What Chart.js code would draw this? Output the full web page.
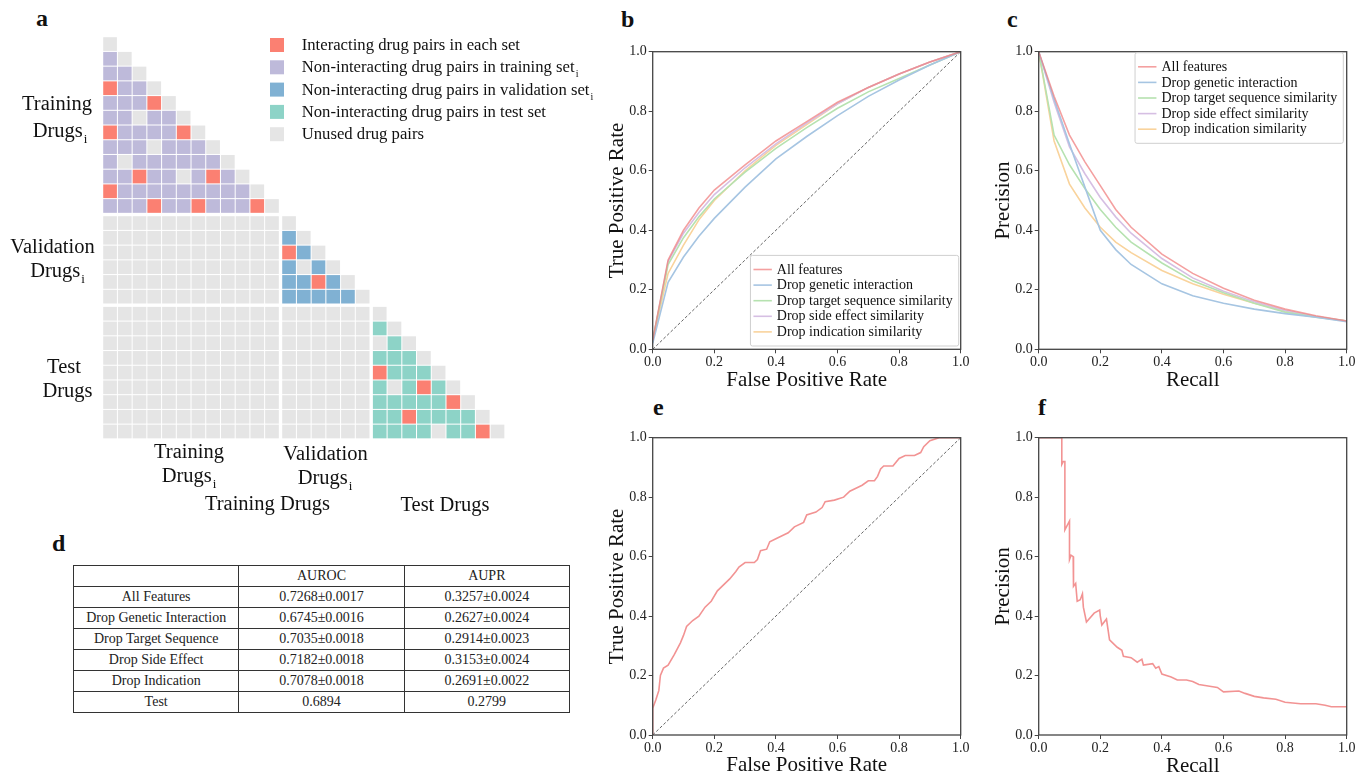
<!DOCTYPE html>
<html>
<head>
<meta charset="utf-8">
<script src="https://cdn.jsdelivr.net/npm/chart.js@4.4.1/dist/chart.umd.min.js"></script>
<style>
  body { margin: 0; width: 1368px; height: 776px; overflow: hidden; background: #fff; font-family: "Liberation Serif", serif; position: relative; }
  canvas { position: absolute; }
  .tag { position: absolute; font-weight: bold; font-size: 24px; line-height: 1; color: #111; }
  #scoreTable { position: absolute; left: 73px; top: 565px; width: 497px; border-collapse: collapse; table-layout: fixed; font-size: 14px; color: #222; border: 1.5px solid #222; }
  #scoreTable td { border: 1px solid #333; text-align: center; height: 20px; padding: 0; }
</style>
</head>
<body>
<div class="tag" style="left:36px;top:6px">a</div>
<div class="tag" style="left:621px;top:7px">b</div>
<div class="tag" style="left:1007px;top:7px">c</div>
<div class="tag" style="left:52px;top:531px">d</div>
<div class="tag" style="left:653px;top:395px">e</div>
<div class="tag" style="left:1038px;top:395px">f</div>

<canvas id="gridChart" width="610" height="530" style="left:0;top:0"></canvas>
<canvas id="rocChart" width="385" height="370" style="left:590px;top:30px"></canvas>
<canvas id="prChart" width="385" height="370" style="left:980px;top:30px"></canvas>
<canvas id="testRocChart" width="385" height="390" style="left:590px;top:400px"></canvas>
<canvas id="testPrChart" width="385" height="390" style="left:980px;top:400px"></canvas>
<table id="scoreTable"></table>

<script>
// ---- panel a: drug pair grid (one string per row, from column 0 to the diagonal)
// I interacting, T non-interacting train, V non-interacting val, S non-interacting test, U unused
var trainRows = ['U', 'TU', 'TTU', 'ITTU', 'TTTIU', 'TTUTTU', 'ITTTTIU', 'TTTUTTTU',
    'TUTTTTTTU', 'TTITTUTITU', 'ITTTTTTTTTU', 'TTTITTITTTIU'];
var valRows = ['U', 'VU', 'IVU', 'VUVU', 'VVIVU', 'VVVVVU'];
var testRows = ['U', 'SU', 'USU', 'SSSU', 'ISSSU', 'SUSISU', 'SSSSSIU', 'SSISSSSU', 'SSSSUSSIU'];
var cellCodes = ['I', 'T', 'V', 'S', 'U'];
var cellLabels = ['Interacting drug pairs in each set', 'Non-interacting drug pairs in training set',
    'Non-interacting drug pairs in validation set', 'Non-interacting drug pairs in test set', 'Unused drug pairs'];
var cellLabelSubs = ['', 'i', 'i', '', ''];
var cellColors = ['#fb8072', '#bebada', '#80b1d3', '#8dd3c7', '#e5e5e5'];

// ---- panel b: ROC curves
var rocFpr = [0, 0.05, 0.1, 0.15, 0.2, 0.3, 0.4, 0.5, 0.6, 0.7, 0.8, 0.9, 1.0];
var rocAll = [0.03, 0.30, 0.40, 0.475, 0.535, 0.62, 0.70, 0.765, 0.83, 0.88, 0.925, 0.965, 1.0];
var rocGenetic = [0.02, 0.225, 0.31, 0.38, 0.44, 0.545, 0.64, 0.715, 0.785, 0.85, 0.905, 0.955, 1.0];
var rocTarget = [0.03, 0.285, 0.375, 0.445, 0.505, 0.595, 0.675, 0.745, 0.81, 0.865, 0.91, 0.955, 1.0];
var rocSide = [0.03, 0.295, 0.39, 0.46, 0.52, 0.61, 0.69, 0.76, 0.825, 0.88, 0.925, 0.965, 1.0];
var rocIndication = [0.03, 0.255, 0.35, 0.435, 0.50, 0.60, 0.685, 0.755, 0.825, 0.88, 0.925, 0.965, 1.0];

// ---- panel c: PR curves
var prRecall = [0, 0.05, 0.1, 0.15, 0.2, 0.25, 0.3, 0.4, 0.5, 0.6, 0.7, 0.8, 0.9, 1.0];
var prAll = [1.0, 0.85, 0.72, 0.63, 0.55, 0.47, 0.41, 0.32, 0.255, 0.205, 0.165, 0.135, 0.113, 0.095];
var prGenetic = [1.0, 0.84, 0.69, 0.545, 0.40, 0.335, 0.285, 0.22, 0.18, 0.155, 0.135, 0.12, 0.108, 0.093];
var prTarget = [1.0, 0.72, 0.62, 0.54, 0.47, 0.41, 0.36, 0.29, 0.23, 0.19, 0.155, 0.125, 0.108, 0.095];
var prSide = [1.0, 0.83, 0.68, 0.59, 0.51, 0.445, 0.39, 0.305, 0.24, 0.195, 0.16, 0.13, 0.11, 0.095];
var prIndication = [1.0, 0.70, 0.555, 0.475, 0.41, 0.36, 0.325, 0.265, 0.22, 0.185, 0.155, 0.13, 0.11, 0.095];

var seriesNames = ['All features', 'Drop genetic interaction', 'Drop target sequence similarity',
    'Drop side effect similarity', 'Drop indication similarity'];
var seriesColors = ['rgba(240,128,128,0.75)', '#a6c5e2', '#b6e2b0', '#d6bfe3', '#f9d39c'];

// ---- panel d: table
var tableRows = ['All Features', 'Drop Genetic Interaction', 'Drop Target Sequence', 'Drop Side Effect', 'Drop Indication', 'Test'];
var aurocVals = ['0.7268±0.0017', '0.6745±0.0016', '0.7035±0.0018', '0.7182±0.0018', '0.7078±0.0018', '0.6894'];
var auprVals = ['0.3257±0.0024', '0.2627±0.0024', '0.2914±0.0023', '0.3153±0.0024', '0.2691±0.0022', '0.2799'];

// ---- panel e: test ROC
var testFpr = [0, 0, 0.01, 0.02, 0.025, 0.035, 0.05, 0.07, 0.09, 0.1, 0.11, 0.13, 0.15, 0.17, 0.19, 0.21, 0.23, 0.25,
    0.27, 0.28, 0.3, 0.33, 0.34, 0.35, 0.37, 0.38, 0.4, 0.42, 0.44, 0.46, 0.49, 0.5, 0.53, 0.55, 0.56, 0.59, 0.62,
    0.64, 0.66, 0.68, 0.7, 0.72, 0.73, 0.74, 0.75, 0.78, 0.8, 0.82, 0.85, 0.87, 0.88, 0.9, 0.93, 1.0];
var testTpr = [0, 0.09, 0.118, 0.15, 0.2, 0.225, 0.235, 0.27, 0.31, 0.335, 0.365, 0.385, 0.4, 0.43, 0.45, 0.485, 0.505,
    0.525, 0.55, 0.565, 0.58, 0.58, 0.59, 0.62, 0.625, 0.65, 0.66, 0.67, 0.68, 0.7, 0.715, 0.74, 0.75, 0.765, 0.785,
    0.79, 0.8, 0.82, 0.83, 0.84, 0.855, 0.855, 0.87, 0.895, 0.905, 0.905, 0.93, 0.94, 0.94, 0.95, 0.97, 0.99, 1.0, 1.0];

// ---- panel f: test PR
var testRecall = [0, 0.075, 0.075, 0.08, 0.085, 0.085, 0.1, 0.1, 0.105, 0.112, 0.113, 0.12, 0.125, 0.135, 0.142,
    0.145, 0.155, 0.18, 0.198, 0.2, 0.205, 0.22, 0.23, 0.24, 0.255, 0.27, 0.275, 0.3, 0.32, 0.335, 0.34, 0.37, 0.38,
    0.39, 0.4, 0.43, 0.45, 0.48, 0.5, 0.52, 0.55, 0.58, 0.6, 0.65, 0.67, 0.7, 0.73, 0.77, 0.8, 0.85, 0.9, 0.93, 0.95, 1.0];
var testPrecision = [1.0, 1.0, 0.91, 0.92, 0.92, 0.69, 0.72, 0.59, 0.605, 0.6, 0.5, 0.51, 0.45, 0.455, 0.475, 0.43,
    0.38, 0.41, 0.42, 0.40, 0.37, 0.39, 0.32, 0.31, 0.295, 0.285, 0.265, 0.26, 0.245, 0.255, 0.235, 0.24, 0.225, 0.23,
    0.205, 0.195, 0.185, 0.185, 0.18, 0.17, 0.165, 0.16, 0.145, 0.148, 0.14, 0.13, 0.125, 0.12, 0.11, 0.105, 0.105,
    0.1, 0.095, 0.095];

var serif = '"Liberation Serif", "Times New Roman", serif';

// text with an optional small subscript, e.g. Drugs_i
function subText(ctx, main, sub, x, base, size, align) {
    ctx.font = size + 'px ' + serif;
    var w1 = ctx.measureText(main).width;
    var subSize = Math.round(size * 0.62);
    ctx.font = subSize + 'px ' + serif;
    var w2 = sub ? ctx.measureText(sub).width + 1 : 0;
    var x0 = align === 'center' ? x - (w1 + w2) / 2 : x;
    ctx.textAlign = 'left';
    ctx.textBaseline = 'alphabetic';
    ctx.font = size + 'px ' + serif;
    ctx.fillText(main, x0, base);
    if (sub) {
        ctx.font = subSize + 'px ' + serif;
        ctx.fillText(sub, x0 + w1 + 1, base + size * 0.3);
    }
}

// ---------------- panel a
var nTrain = trainRows.length, nVal = valRows.length;
function blockOf(i) { return i < nTrain ? 0 : i < nTrain + nVal ? 1 : 2; }
function cellPos(i) { return i + 0.5 + blockOf(i) * 0.16; }

var allRows = trainRows
    .concat(valRows.map(function (r) { return 'U'.repeat(nTrain) + r; }))
    .concat(testRows.map(function (r) { return 'U'.repeat(nTrain + nVal) + r; }));
var nAll = allRows.length;

var gridSets = cellCodes.map(function (code, k) {
    var pts = [];
    allRows.forEach(function (row, r) {
        row.split('').forEach(function (c, col) {
            if (c === code) pts.push({ x: cellPos(col), y: cellPos(r) });
        });
    });
    return {
        label: cellLabels[k], data: pts, backgroundColor: cellColors[k], borderWidth: 0,
        pointStyle: 'rect', pointRadius: 9.69, pointHoverRadius: 9.69, clip: false
    };
});

var gridText = {
    id: 'gridText',
    afterDraw: function (chart) {
        var ctx = chart.ctx;
        ctx.save();
        ctx.fillStyle = '#111';
        // legend
        cellLabels.forEach(function (lab, k) {
            var cy = 45 + k * 22.3;
            ctx.fillStyle = cellColors[k];
            ctx.fillRect(270, cy - 7, 14, 14);
            ctx.fillStyle = '#111';
            subText(ctx, lab, cellLabelSubs[k], 301.7, cy + 5, 16.7, 'left');
        });
        // side labels
        subText(ctx, 'Training', '', 57, 110, 20.5, 'center');
        subText(ctx, 'Drugs', 'i', 60, 137, 20.5, 'center');
        subText(ctx, 'Validation', '', 52.5, 253, 20.5, 'center');
        subText(ctx, 'Drugs', 'i', 57.5, 277, 20.5, 'center');
        subText(ctx, 'Test', '', 64, 373, 20.5, 'center');
        subText(ctx, 'Drugs', '', 67.5, 397, 20.5, 'center');
        // bottom labels
        subText(ctx, 'Training', '', 189, 458, 20.5, 'center');
        subText(ctx, 'Drugs', 'i', 189, 482, 20.5, 'center');
        subText(ctx, 'Validation', '', 325.5, 460, 20.5, 'center');
        subText(ctx, 'Drugs', 'i', 325, 484, 20.5, 'center');
        subText(ctx, 'Training Drugs', '', 267.5, 510, 20.5, 'center');
        subText(ctx, 'Test Drugs', '', 445, 511, 20.5, 'center');
        ctx.restore();
    }
};

var gridSpan = nAll + 0.32;
new Chart(document.getElementById('gridChart'), {
    type: 'scatter',
    data: { datasets: gridSets },
    options: {
        responsive: false, animation: false, events: [],
        layout: { padding: { left: 102.7, top: 36.7, right: 610 - 102.7 - gridSpan * 14.72, bottom: 530 - 36.7 - gridSpan * 14.72 } },
        plugins: { legend: { display: false }, tooltip: { enabled: false } },
        scales: {
            x: { type: 'linear', min: 0, max: gridSpan, display: false },
            y: { type: 'linear', min: 0, max: gridSpan, reverse: true, display: false }
        }
    },
    plugins: [gridText]
});

// ---------------- panels b, c, e, f
var frame = {
    id: 'frame',
    afterDatasetsDraw: function (chart) {
        var ctx = chart.ctx, a = chart.chartArea;
        ctx.save();
        ctx.strokeStyle = '#444';
        ctx.lineWidth = 1.3;
        ctx.strokeRect(a.left, a.top, a.right - a.left, a.bottom - a.top);
        ctx.restore();
    }
};

var boxLegend = {
    id: 'boxLegend',
    afterDatasetsDraw: function (chart, args, opts) {
        if (!opts || !opts.corner) return;
        var ctx = chart.ctx, a = chart.chartArea;
        var items = chart.data.datasets.filter(function (d) { return d.label; });
        ctx.save();
        ctx.font = '14px ' + serif;
        var tw = Math.max.apply(null, items.map(function (d) { return ctx.measureText(d.label).width; }));
        var rowH = 15.6;
        var w = 3 + 18.4 + 5 + tw + 6, h = items.length * rowH + 12.6;
        var x = a.right - opts.marginX - w;
        var y = opts.corner === 'br' ? a.bottom - opts.marginY - h : a.top + opts.marginY;
        ctx.fillStyle = 'rgba(255,255,255,0.85)';
        ctx.strokeStyle = '#cfcfcf';
        ctx.lineWidth = 1;
        ctx.beginPath();
        ctx.roundRect(x, y, w, h, 2);
        ctx.fill();
        ctx.stroke();
        items.forEach(function (d, i) {
            var cy = y + 6.3 + rowH * (i + 0.5);
            ctx.strokeStyle = d.borderColor;
            ctx.lineWidth = 1.6;
            ctx.beginPath();
            ctx.moveTo(x + 3, cy);
            ctx.lineTo(x + 21.4, cy);
            ctx.stroke();
            ctx.fillStyle = '#111';
            ctx.textAlign = 'left';
            ctx.textBaseline = 'middle';
            ctx.fillText(d.label, x + 26.4, cy + 0.5);
        });
        ctx.restore();
    }
};

function toPoints(xs, ys) {
    return xs.map(function (x, i) { return { x: x, y: ys[i] }; });
}

function curve(label, xs, ys, color) {
    return {
        label: label, data: toPoints(xs, ys), borderColor: color, borderWidth: 1.6,
        pointRadius: 0, showLine: true, fill: false, tension: 0
    };
}

var diagonal = {
    data: [{ x: 0, y: 0 }, { x: 1, y: 1 }], borderColor: '#222', borderWidth: 0.7,
    borderDash: [3, 2], pointRadius: 0, showLine: true
};

function curveOptions(o) {
    var tickFont = { family: serif, size: 14 };
    var titleFont = { family: serif, size: 21 };
    return {
        responsive: false, animation: false, events: [],
        layout: { padding: o.pad },
        plugins: { legend: { display: false }, tooltip: { enabled: false }, boxLegend: o.legend || {} },
        scales: {
            x: {
                type: 'linear', min: 0, max: 1,
                afterFit: function (s) { s.height = o.xHeight; },
                ticks: { stepSize: 0.2, callback: function (v) { return v.toFixed(1); }, font: tickFont, color: '#222', padding: 1, maxRotation: 0 },
                grid: { drawOnChartArea: false, tickLength: 4, color: '#444' },
                border: { display: false },
                title: { display: true, text: o.xTitle, font: titleFont, color: '#111', padding: { top: 0, bottom: o.xTitlePad } }
            },
            y: {
                type: 'linear', min: 0, max: 1,
                afterFit: function (s) { s.width = o.yWidth; },
                ticks: { stepSize: 0.2, callback: function (v) { return v.toFixed(1); }, font: tickFont, color: '#222', padding: 2 },
                grid: { drawOnChartArea: false, tickLength: 4, color: '#444' },
                border: { display: false },
                title: { display: true, text: o.yTitle, font: titleFont, color: '#111', padding: { top: o.yTitlePad, bottom: 0 } }
            }
        }
    };
}

new Chart(document.getElementById('rocChart'), {
    type: 'scatter',
    data: {
        datasets: [
            curve(seriesNames[0], rocFpr, rocAll, seriesColors[0]),
            curve(seriesNames[1], rocFpr, rocGenetic, seriesColors[1]),
            curve(seriesNames[2], rocFpr, rocTarget, seriesColors[2]),
            curve(seriesNames[3], rocFpr, rocSide, seriesColors[3]),
            curve(seriesNames[4], rocFpr, rocIndication, seriesColors[4]),
            diagonal
        ]
    },
    options: curveOptions({
        pad: { left: 0, top: 21.7, right: 14.3, bottom: 0 }, yWidth: 62.7, xHeight: 50.7,
        xTitle: 'False Positive Rate', yTitle: 'True Positive Rate', xTitlePad: 7, yTitlePad: 14.5,
        legend: { corner: 'br', marginX: 2, marginY: 3.3 }
    }),
    plugins: [frame, boxLegend]
});

new Chart(document.getElementById('prChart'), {
    type: 'scatter',
    data: {
        datasets: [
            curve(seriesNames[0], prRecall, prAll, seriesColors[0]),
            curve(seriesNames[1], prRecall, prGenetic, seriesColors[1]),
            curve(seriesNames[2], prRecall, prTarget, seriesColors[2]),
            curve(seriesNames[3], prRecall, prSide, seriesColors[3]),
            curve(seriesNames[4], prRecall, prIndication, seriesColors[4])
        ]
    },
    options: curveOptions({
        pad: { left: 0, top: 21.7, right: 18.3, bottom: 0 }, yWidth: 58.7, xHeight: 50.7,
        xTitle: 'Recall', yTitle: 'Precision', xTitlePad: 7.4, yTitlePad: 10.7,
        legend: { corner: 'tr', marginX: 3.4, marginY: 1 }
    }),
    plugins: [frame, boxLegend]
});

new Chart(document.getElementById('testRocChart'), {
    type: 'scatter',
    data: { datasets: [curve('', testFpr, testTpr, 'rgba(240,128,128,0.85)'), diagonal] },
    options: curveOptions({
        pad: { left: 0, top: 37.7, right: 14.3, bottom: 0 }, yWidth: 62.7, xHeight: 55,
        xTitle: 'False Positive Rate', yTitle: 'True Positive Rate', xTitlePad: 12.4, yTitlePad: 14.5
    }),
    plugins: [frame]
});

new Chart(document.getElementById('testPrChart'), {
    type: 'scatter',
    data: { datasets: [curve('', testRecall, testPrecision, 'rgba(240,128,128,0.85)')] },
    options: curveOptions({
        pad: { left: 0, top: 37.7, right: 18.3, bottom: 0 }, yWidth: 58.7, xHeight: 55,
        xTitle: 'Recall', yTitle: 'Precision', xTitlePad: 11.4, yTitlePad: 10.7
    }),
    plugins: [frame]
});

// ---------------- panel d
var table = document.getElementById('scoreTable');
var head = table.insertRow();
['', 'AUROC', 'AUPR'].forEach(function (t) { head.insertCell().textContent = t; });
tableRows.forEach(function (name, i) {
    var tr = table.insertRow();
    tr.insertCell().textContent = name;
    tr.insertCell().textContent = aurocVals[i];
    tr.insertCell().textContent = auprVals[i];
});
</script>
</body>
</html>
